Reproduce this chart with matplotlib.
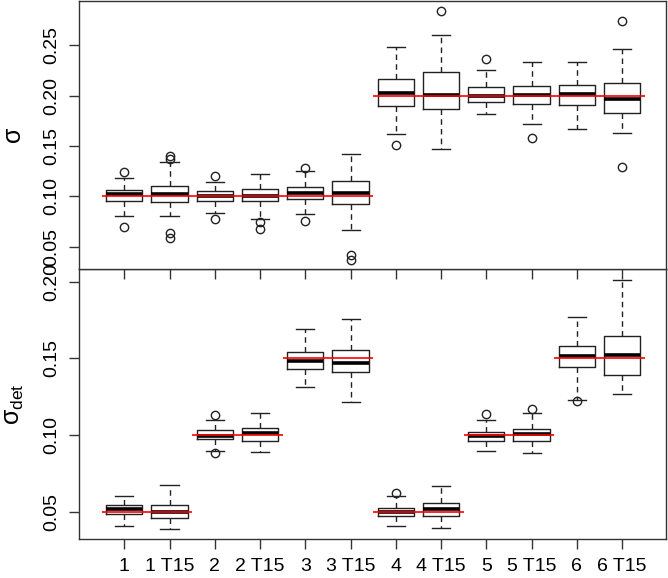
import matplotlib
matplotlib.use("Agg")
import matplotlib.pyplot as plt
from matplotlib import rcParams

rcParams['font.family'] = 'sans-serif'
rcParams['font.sans-serif'] = ['Liberation Sans', 'DejaVu Sans']
rcParams['mathtext.fontset'] = 'custom'
rcParams['mathtext.rm'] = 'Liberation Sans'
rcParams['mathtext.it'] = 'Liberation Sans'
rcParams['font.size'] = 14

labels = ['1', '1 T15', '2', '2 T15', '3', '3 T15',
          '4', '4 T15', '5', '5 T15', '6', '6 T15']

# sigma (top panel)
sig_lo = [0.0802, 0.0805, 0.0834, 0.0775, 0.0824, 0.0663,
          0.1622, 0.1466, 0.1813, 0.1717, 0.1665, 0.1628]
sig_q1 = [0.0950, 0.0947, 0.0957, 0.0953, 0.0970, 0.0928,
          0.1900, 0.1863, 0.1936, 0.1920, 0.1910, 0.1826]
sig_med = [0.1027, 0.1027, 0.1003, 0.1003, 0.1030, 0.1033,
           0.2022, 0.2009, 0.1995, 0.2009, 0.2012, 0.1965]
sig_q3 = [0.1063, 0.1106, 0.1050, 0.1072, 0.1089, 0.1149,
          0.2164, 0.2233, 0.2081, 0.2098, 0.2104, 0.2128]
sig_hi = [0.1186, 0.1337, 0.1139, 0.1225, 0.1248, 0.1424,
          0.2478, 0.2600, 0.2253, 0.2332, 0.2336, 0.2458]
sig_out = [[0.1238, 0.0695], [0.1397, 0.1370, 0.0640, 0.0590], [0.1205, 0.0772],
           [0.0745, 0.0680], [0.1285, 0.0752], [0.0415, 0.0372],
           [0.1506], [0.2835], [0.2359], [0.1575], [], [0.2736, 0.1288]]
sig_true = [0.1, 0.1, 0.1, 0.1, 0.1, 0.1, 0.2, 0.2, 0.2, 0.2, 0.2, 0.2]

# sigma_det (bottom panel)
det_lo = [0.0404, 0.0389, 0.0893, 0.0887, 0.1313, 0.1215,
          0.0409, 0.0394, 0.0898, 0.0881, 0.1226, 0.1267]
det_q1 = [0.0482, 0.0456, 0.0974, 0.0963, 0.1430, 0.1411,
          0.0469, 0.0472, 0.0963, 0.0961, 0.1441, 0.1393]
det_med = [0.0515, 0.0498, 0.0997, 0.1015, 0.1480, 0.1473,
           0.0498, 0.0520, 0.0997, 0.1007, 0.1517, 0.1523]
det_q3 = [0.0546, 0.0546, 0.1030, 0.1043, 0.1543, 0.1554,
          0.0526, 0.0554, 0.1017, 0.1041, 0.1584, 0.1647]
det_hi = [0.0600, 0.0671, 0.1098, 0.1145, 0.1695, 0.1760,
          0.0600, 0.0668, 0.1098, 0.1143, 0.1771, 0.2010]
det_out = [[], [], [0.1128, 0.0885], [], [], [],
           [0.0619], [], [0.1139], [0.1167], [0.1221], []]
det_true = [0.05, 0.05, 0.10, 0.10, 0.15, 0.15, 0.05, 0.05, 0.10, 0.10, 0.15, 0.15]


def make_stats(lo, q1, med, q3, hi, out):
    return [dict(whislo=a, q1=b, med=c, q3=d, whishi=e, fliers=f)
            for a, b, c, d, e, f in zip(lo, q1, med, q3, hi, out)]


def draw_panel(ax, stats, truth):
    pos = list(range(1, len(stats) + 1))
    ax.bxp(stats, positions=pos, widths=0.8, capwidths=0.4, manage_ticks=False,
           boxprops=dict(color='#222222', linewidth=1.0),
           medianprops=dict(color='black', linewidth=2.6, solid_capstyle='butt'),
           whiskerprops=dict(color='#222222', linewidth=1.0, linestyle=(0, (4, 3))),
           capprops=dict(color='#222222', linewidth=1.0),
           flierprops=dict(marker='o', markerfacecolor='none',
                           markeredgecolor='#222222', markersize=6, markeredgewidth=1.0))
    for p, t in zip(pos, truth):
        ax.hlines(t, p - 0.5, p + 0.5, color='red', linewidth=1.2, zorder=5)
    for s in ax.spines.values():
        s.set_color('#333333')
        s.set_linewidth(1.0)
    ax.tick_params(direction='out', length=7.5, width=1.0, color='#333333', pad=6)
    ax.tick_params(axis='y', labelrotation=90)


fig = plt.figure(figsize=(6.68, 5.78), dpi=100)
ax1 = fig.add_axes([0.1183, 0.534, 0.8787, 0.464])
ax2 = fig.add_axes([0.1183, 0.067, 0.8787, 0.467], sharex=ax1)
ax1.set_zorder(3)

draw_panel(ax1, make_stats(sig_lo, sig_q1, sig_med, sig_q3, sig_hi, sig_out), sig_true)
draw_panel(ax2, make_stats(det_lo, det_q1, det_med, det_q3, det_hi, det_out), det_true)

ax1.set_xlim(0, 12.97)
ax1.set_xticks(range(1, 13))
ax2.set_xticklabels(labels)
ax1.tick_params(axis='x', labelbottom=False)

ax1.set_ylim(0.0276, 0.2937)
ax1.set_yticks([0.05, 0.10, 0.15, 0.20, 0.25])
ax1.set_yticklabels(['0.05', '0.10', '0.15', '0.20', '0.25'], va='center')
ax2.set_ylim(0.032, 0.2081)
ax2.set_yticks([0.05, 0.10, 0.15, 0.20])
ax2.set_yticklabels(['0.05', '0.10', '0.15', '0.20'], va='center')

ax1.set_ylabel(r'$\sigma$', fontsize=18)
ax2.set_ylabel(r'$\sigma_{\rm det}$', fontsize=18)
ax1.yaxis.set_label_coords(-0.091, 0.5)
ax2.yaxis.set_label_coords(-0.091, 0.5)

plt.savefig("out.png", dpi=100)
